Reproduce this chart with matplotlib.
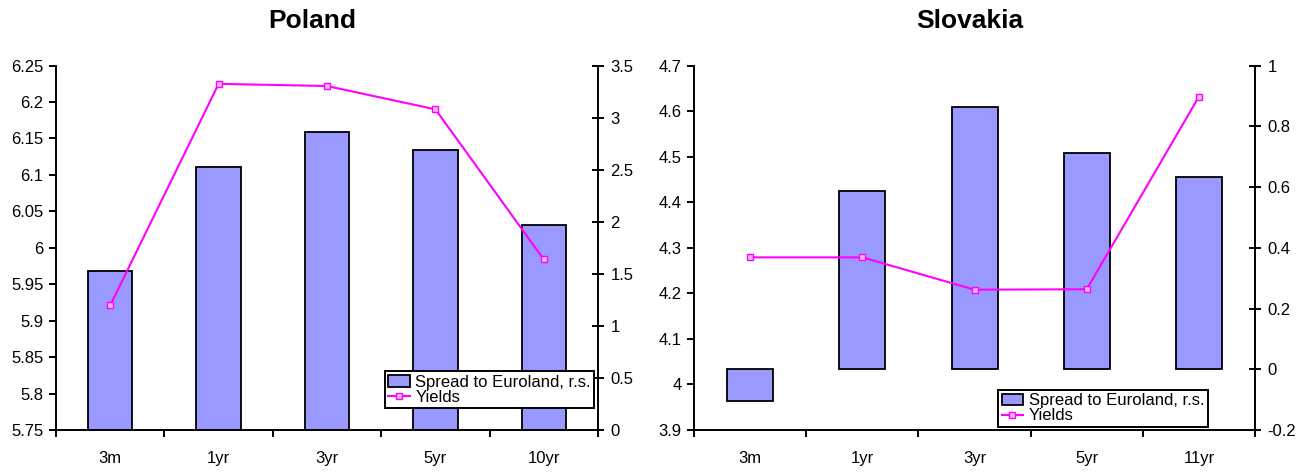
import numpy as np
import matplotlib.pyplot as plt
from matplotlib.ticker import FixedLocator, FixedFormatter

# data
pl_labels = ['3m', '1yr', '3yr', '5yr', '10yr']
pl_spread = [1.53, 2.53, 2.86, 2.69, 1.97]
pl_yields = [5.921, 6.225, 6.222, 6.190, 5.984]

sk_labels = ['3m', '1yr', '3yr', '5yr', '11yr']
sk_spread = [-0.104, 0.586, 0.863, 0.711, 0.633]
sk_yields = [4.279, 4.279, 4.208, 4.209, 4.632]

BAR_C = '#9999FF'
LINE_C = '#FF00FF'
FS = 12


def panel(fig, rect, labels, spread, yields, ylim_l, yticks_l, ylim_r, yticks_r,
          legend_anchor):
    ax = fig.add_axes(rect)        # yields, left axis
    ax2 = ax.twinx()               # spread, right axis
    ax.set_zorder(ax2.get_zorder() + 1)
    ax.patch.set_visible(False)

    x = np.arange(len(labels))
    bars = ax2.bar(x, spread, width=0.41, color=BAR_C, edgecolor='black',
                   linewidth=1.3, label='Spread to Euroland, r.s.')
    line, = ax.plot(x, yields, color=LINE_C, linewidth=1.5, marker='s',
                    markersize=5, markerfacecolor='#FFBBFF',
                    markeredgecolor=LINE_C, label='Yields')

    ax.set_xlim(-0.5, len(labels) - 0.5)
    ax.set_ylim(*ylim_l)
    ax.set_yticks(yticks_l)
    ax.set_yticklabels([('%g' % v) for v in yticks_l])
    ax2.set_ylim(*ylim_r)
    ax2.set_yticks(yticks_r)
    ax2.set_yticklabels([('%g' % v) for v in yticks_r])

    # category boundaries as ticks, labels centred
    ax.xaxis.set_major_locator(FixedLocator(np.arange(len(labels) + 1) - 0.5))
    ax.xaxis.set_major_formatter(FixedFormatter([''] * (len(labels) + 1)))
    ax.xaxis.set_minor_locator(FixedLocator(x))
    ax.xaxis.set_minor_formatter(FixedFormatter(labels))
    ax.tick_params(axis='x', which='major', direction='out', length=5, width=1.4)
    ax.tick_params(axis='x', which='minor', length=0, pad=15, labelsize=FS)
    ax.tick_params(axis='y', direction='out', length=5, width=1.4, pad=4,
                   labelsize=FS)
    ax2.tick_params(axis='y', direction='inout', length=8, width=1.4, pad=5,
                    labelsize=FS)

    for a in (ax, ax2):
        a.spines['top'].set_visible(False)
        for s in ('left', 'right', 'bottom'):
            a.spines[s].set_linewidth(1.4)
    ax.spines['right'].set_visible(False)
    ax2.spines['left'].set_visible(False)
    ax2.spines['bottom'].set_visible(False)

    leg = ax.legend([bars, line], ['Spread to Euroland, r.s.', 'Yields'],
                    loc='lower right', bbox_to_anchor=legend_anchor,
                    fontsize=FS, frameon=True, fancybox=False, framealpha=1,
                    edgecolor='black', borderpad=0.2, labelspacing=0.0,
                    handlelength=1.3, handletextpad=0.35, borderaxespad=0)
    leg.get_frame().set_linewidth(1.4)
    return ax, ax2


def main():
    plt.rcParams['font.family'] = ['Liberation Sans', 'DejaVu Sans']

    fig = plt.figure(figsize=(13.06, 4.72), dpi=100)

    panel(fig, [0.0429, 0.089, 0.415, 0.772], pl_labels, pl_spread, pl_yields,
          (5.75, 6.25), np.arange(5.75, 6.2501, 0.05),
          (0, 3.5), np.arange(0, 3.501, 0.5), (0.993, 0.06))
    panel(fig, [0.5314, 0.089, 0.4296, 0.772], sk_labels, sk_spread, sk_yields,
          (3.9, 4.7), np.arange(3.9, 4.701, 0.1),
          (-0.2, 1.0), np.arange(-0.2, 1.001, 0.2), (0.916, 0.009))

    fig.text(312 / 1306, 1 - 21 / 472, 'Poland', ha='center', va='center',
             fontsize=19, fontweight='bold')
    fig.text(970 / 1306, 1 - 21 / 472, 'Slovakia', ha='center', va='center',
             fontsize=19, fontweight='bold')

    fig.savefig('out.png', dpi=100)
    plt.close()


if __name__ == "__main__":
    main()
